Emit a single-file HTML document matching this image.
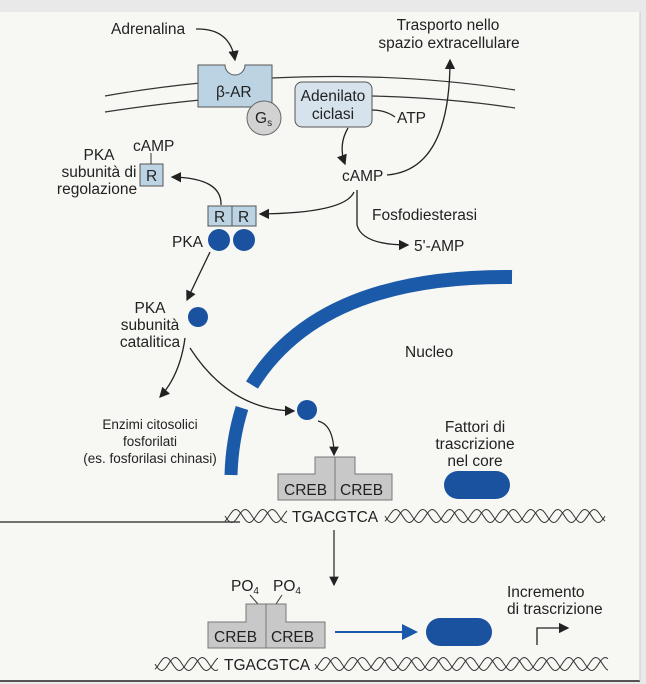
<!DOCTYPE html>
<html><head><meta charset="utf-8"><style>
body{margin:0;background:#e9e9e9;}
svg{display:block;font-family:"Liberation Sans",sans-serif;font-size:15.5px;fill:#222}
text{fill:#222}
</style></head><body>
<svg id="s" width="646" height="684" viewBox="0 0 646 684">
<defs><marker id="ah" markerWidth="8" markerHeight="8" refX="7" refY="4" orient="auto"><path d="M0,0 L8,4 L0,8 z" fill="#222"/></marker>
<marker id="ahb" markerWidth="8" markerHeight="8" refX="7" refY="4" orient="auto"><path d="M0,0 L8,4 L0,8 z" fill="#1a5aa8"/></marker></defs>
<rect x="0" y="12" width="640" height="668" fill="#f7f7f4"/>
<line x1="0" y1="681" x2="640" y2="681" stroke="#555" stroke-width="2"/>
<line x1="640" y1="12" x2="640" y2="681" stroke="#ccc"/>
<g fill="none" stroke="#333" stroke-width="1.2">
<path d="M105,96 Q150,88 200,83"/><path d="M272,78 Q400,72 515,90"/>
<path d="M105,112 Q150,105 200,100"/><path d="M372,96 Q450,98 515,108"/>
</g>
<text x="111" y="34">Adrenalina</text>
<path d="M196,29 Q230,28 235,60" fill="none" stroke="#222" stroke-width="1.3" marker-end="url(#ah)"/>
<path d="M198,65 H225 A10,10 0 0 0 245,65 H272 V107 H198 Z" fill="#bcd3e3" stroke="#555"/>
<text x="216" y="97">β-AR</text>
<rect x="295" y="82" width="77" height="45" rx="7" fill="#d6e3ec" stroke="#555"/>
<text x="333" y="101" text-anchor="middle">Adenilato</text><text x="333" y="119" text-anchor="middle">ciclasi</text>
<circle cx="264" cy="118" r="17" fill="#d2d2d2" stroke="#666"/>
<text x="255" y="123">G<tspan font-size="10" dy="3">s</tspan></text>
<path d="M372,110 Q385,110 395,117" fill="none" stroke="#222" stroke-width="1.2"/>
<text x="397" y="123">ATP</text>
<text x="448" y="30" text-anchor="middle">Trasporto nello</text>
<text x="449" y="48" text-anchor="middle">spazio extracellulare</text>
<path d="M387,175 Q450,170 450,60" fill="none" stroke="#222" stroke-width="1.3" marker-end="url(#ah)"/>
<path d="M348,128 Q338,145 345,164" fill="none" stroke="#222" stroke-width="1.3" marker-end="url(#ah)"/>
<text x="342" y="181">cAMP</text>
<path d="M357,190 V225 Q362,245 408,245" fill="none" stroke="#222" stroke-width="1.3" marker-end="url(#ah)"/>
<text x="372" y="220">Fosfodiesterasi</text>
<text x="414" y="251">5'-AMP</text>
<path d="M354,192 Q345,213 260,214" fill="none" stroke="#222" stroke-width="1.3" marker-end="url(#ah)"/>
<rect x="208" y="206" width="24" height="20" fill="#bcd3e3" stroke="#555"/><rect x="232" y="206" width="24" height="20" fill="#bcd3e3" stroke="#555"/>
<text x="214" y="222">R</text><text x="238" y="222">R</text>
<circle cx="219" cy="240" r="11" fill="#1a52a0"/><circle cx="244" cy="240" r="11" fill="#1a52a0"/>
<text x="172" y="247">PKA</text>
<path d="M221,205 Q222,178 172,177" fill="none" stroke="#222" stroke-width="1.3" marker-end="url(#ah)"/>
<rect x="140" y="164" width="23" height="22" fill="#bcd3e3" stroke="#555"/>
<text x="146" y="181">R</text><line x1="151" y1="153" x2="151" y2="164" stroke="#333"/>
<text x="133" y="151">cAMP</text>
<g text-anchor="middle"><text x="99" y="160">PKA</text><text x="99" y="177">subunità di</text><text x="97" y="194">regolazione</text></g>
<path d="M210,252 L187,300" fill="none" stroke="#222" stroke-width="1.3" marker-end="url(#ah)"/>
<circle cx="198" cy="317" r="10" fill="#1a52a0"/>
<g text-anchor="middle"><text x="150" y="313">PKA</text><text x="150" y="330">subunità</text><text x="150" y="347">catalitica</text></g>
<path d="M185,338 Q180,375 160,397" fill="none" stroke="#222" stroke-width="1.3" marker-end="url(#ah)"/>
<path d="M190,348 Q230,410 294,411" fill="none" stroke="#222" stroke-width="1.3" marker-end="url(#ah)"/>
<circle cx="307" cy="410" r="10" fill="#1a52a0"/>
<g text-anchor="middle" font-size="13.5"><text x="150" y="429">Enzimi citosolici</text><text x="150" y="446">fosforilati</text><text x="150" y="463">(es. fosforilasi chinasi)</text></g>
<path d="M252,385 Q320,275 512,277" fill="none" stroke="#1a5aa8" stroke-width="14"/>
<path d="M242,408 Q232,440 231,475" fill="none" stroke="#1a5aa8" stroke-width="13"/>
<text x="405" y="357">Nucleo</text>
<path d="M318,421 Q334,425 334,455" fill="none" stroke="#222" stroke-width="1.2" marker-end="url(#ah)"/>
<path d="M315,457 H355 V474 H392 V500 H278 V474 H315 Z" fill="#c8c8c8" stroke="#777"/>
<line x1="335" y1="457" x2="335" y2="500" stroke="#777"/>
<text x="284" y="495">CREB</text><text x="340" y="495">CREB</text>
<g text-anchor="middle"><text x="475" y="432">Fattori di</text><text x="475" y="449">trascrizione</text><text x="475" y="466">nel core</text></g>
<rect x="444" y="471" width="66" height="28" rx="14" fill="#1a52a0"/>
<line x1="0" y1="522" x2="240" y2="522" stroke="#222" stroke-width="1.2"/>
<g id="dna" fill="none" stroke="#333" stroke-width="1"></g>
<text x="292" y="522">TGACGTCA</text>
<line x1="334" y1="530" x2="334" y2="585" stroke="#222" stroke-width="1.2" marker-end="url(#ah)"/>
<text x="231" y="591">PO<tspan font-size="10" dy="3">4</tspan></text><text x="273" y="591" dy="0">PO<tspan font-size="10" dy="3">4</tspan></text>
<line x1="250" y1="595" x2="258" y2="604" stroke="#333"/><line x1="282" y1="595" x2="276" y2="604" stroke="#333"/>
<path d="M246,604 H286 V622 H325 V648 H208 V622 H246 Z" fill="#c8c8c8" stroke="#777"/>
<line x1="266" y1="604" x2="266" y2="648" stroke="#777"/>
<text x="214" y="642">CREB</text><text x="271" y="642">CREB</text>
<line x1="335" y1="632" x2="416" y2="632" stroke="#1a5aa8" stroke-width="2" marker-end="url(#ahb)"/>
<rect x="426" y="618" width="66" height="28" rx="14" fill="#1a52a0"/>
<text x="507" y="597">Incremento</text><text x="507" y="614">di trascrizione</text>
<path d="M537,645 V628 H568" fill="none" stroke="#222" stroke-width="1.3" marker-end="url(#ah)"/>
<text x="224" y="670">TGACGTCA</text>
</svg>
<script>
const g=document.getElementById('dna');
function helix(x0,x1,y){
 for(const ph of [0,Math.PI*0.7]){
  let d='';
  for(let x=x0;x<=x1;x+=1){const yy=y+6.5*Math.sin((x-x0)/27*2*Math.PI+ph);d+=(x===x0?'M':'L')+x+','+yy.toFixed(1);}
  const p=document.createElementNS('http://www.w3.org/2000/svg','path');p.setAttribute('d',d);
  
  
  g.appendChild(p);
 }
}
helix(225,287,516);helix(385,605,516);helix(155,218,664);helix(315,608,664);
</script>
</body></html>
